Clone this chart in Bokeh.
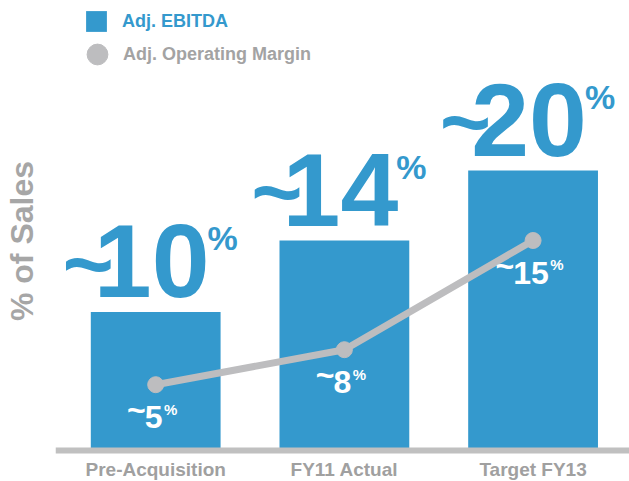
from bokeh.plotting import figure
from bokeh.models import Range1d, Span, Legend, LegendItem, ColumnDataSource, FixedTicker
from bokeh.core.properties import value
from bokeh.embed import file_html
from bokeh.resources import INLINE

# ---- data ----
categories = ["Pre-Acquisition", "FY11 Actual", "Target FY13"]
ebitda = [9.9, 15.0, 20.0]
ebitda_labels = ["10", "14", "20"]
margin = [4.7, 7.2, 15.0]
margin_labels = ["5", "8", "15"]

# ---- styles ----
BLUE = "#3499cd"
GRAY_LINE = "#bdbdbf"
GRAY_AXIS = "#c0c0c0"
GRAY_TEXT = "#a3a3a3"
FONT_NAME = "Liberation Sans"
FONT = value(FONT_NAME)

BIG = 104      # big number font px
BIG_T = 88     # big tilde font px
SMALL = 32     # small number font px
SMALL_T = 32   # small tilde font px
DIGIT = 0.556  # digit advance (em)
SHIFT = 0.37   # baseline correction factor

x = list(range(len(categories)))

big_w = [len(s) * DIGIT * BIG for s in ebitda_labels]
big_dx = -4
small_w = [len(s) * DIGIT * SMALL for s in margin_labels]
small_dx = -2

src = ColumnDataSource(dict(
    x=x, cat=categories, ebitda=ebitda, elab=ebitda_labels,
    margin=margin, mlab=margin_labels,
    big_t=[big_dx - w / 2 + 20 for w in big_w],
    big_p=[big_dx + w / 2 - 2 for w in big_w],
    sm_t=[small_dx - w / 2 + 1 for w in small_w],
    sm_p=[small_dx + w / 2 + 1.5 for w in small_w],
))

p = figure(width=629, height=481, output_backend="svg", toolbar_location=None,
           x_range=Range1d(-0.531, 2.511), y_range=Range1d(-31 / 14, 450 / 14),
           x_axis_type=None,
           min_border_left=54, min_border_right=0, min_border_top=0, min_border_bottom=0)
p.outline_line_color = None
p.grid.visible = False
p.background_fill_color = "white"

# y axis only used for its title
ya = p.yaxis[0]
ya.ticker = FixedTicker(ticks=[])
ya.axis_line_color = None
ya.major_tick_line_color = None
ya.minor_tick_line_color = None
ya.major_tick_out = 0
ya.minor_tick_out = 0
ya.major_label_text_font_size = "0px"
ya.major_label_standoff = 0
ya.axis_label = "% of Sales"
ya.axis_label_text_font = FONT_NAME
ya.axis_label_text_font_style = "bold"
ya.axis_label_text_font_size = "32px"
ya.axis_label_text_color = "#a6a6a6"
ya.axis_label_standoff = 16

bars = p.vbar(x="x", top="ebitda", bottom=0, width=130 / 189, source=src,
              fill_color=BLUE, line_color=None)

p.line(x="x", y="margin", source=src, line_width=7, line_color=GRAY_LINE)
pts = p.scatter(x="x", y="margin", source=src, size=16, fill_color=GRAY_LINE,
                line_color=GRAY_LINE)

p.add_layout(Span(location=0, dimension="width", line_color=GRAY_AXIS, line_width=6))

# big EBITDA labels
p.text(x="x", y="ebitda", text="elab", source=src, x_offset=big_dx, y_offset=-12 - SHIFT * BIG,
       text_align="center", text_baseline="alphabetic", text_font=FONT,
       text_font_style="bold", text_font_size=f"{BIG}px", text_color=BLUE)
p.text(x="x", y="ebitda", text=value("~"), source=src, x_offset="big_t",
       y_offset=-16 - SHIFT * BIG_T,
       text_align="right", text_baseline="alphabetic", text_font=FONT,
       text_font_style="bold", text_font_size=f"{BIG_T}px", text_color=BLUE)
p.text(x="x", y="ebitda", text=value("%"), source=src, x_offset="big_p", y_offset=-61 - SHIFT * 34,
       text_align="left", text_baseline="alphabetic", text_font=FONT,
       text_font_style="bold", text_font_size="34px", text_color=BLUE)

# small margin labels
p.text(x="x", y="margin", text="mlab", source=src, x_offset=small_dx, y_offset=44 - SHIFT * SMALL,
       text_align="center", text_baseline="alphabetic", text_font=FONT,
       text_font_style="bold", text_font_size=f"{SMALL}px", text_color="white")
p.text(x="x", y="margin", text=value("~"), source=src, x_offset="sm_t",
       y_offset=37 - SHIFT * SMALL_T,
       text_align="right", text_baseline="alphabetic", text_font=FONT,
       text_font_style="bold", text_font_size=f"{SMALL_T}px", text_color="white")
p.text(x="x", y="margin", text=value("%"), source=src, x_offset="sm_p", y_offset=30 - SHIFT * 15,
       text_align="left", text_baseline="alphabetic", text_font=FONT,
       text_font_style="bold", text_font_size="15px", text_color="white")

# category labels
p.text(x="x", y=0, text="cat", source=src, y_offset=26 - SHIFT * 19,
       text_align="center", text_baseline="alphabetic", text_font=FONT,
       text_font_style="bold", text_font_size="19px", text_color="#a0a0a0")

# legends
common = dict(padding=0, margin=0, spacing=0, border_line_color=None,
              background_fill_alpha=0, label_text_font=FONT_NAME,
              label_text_font_style="bold", label_text_font_size="18px")
leg1 = Legend(items=[LegendItem(label="Adj. EBITDA", renderers=[bars])],
              location=(28, 447), glyph_width=26, glyph_height=26, label_standoff=13,
              label_text_color=BLUE, **common)
leg2 = Legend(items=[LegendItem(label="Adj. Operating Margin", renderers=[pts])],
              location=(16, 401), glyph_width=52, glyph_height=52, label_standoff=0,
              label_text_color=GRAY_TEXT, **common)
p.add_layout(leg1)
p.add_layout(leg2)

open("out.html", "w").write(file_html(p, INLINE))
